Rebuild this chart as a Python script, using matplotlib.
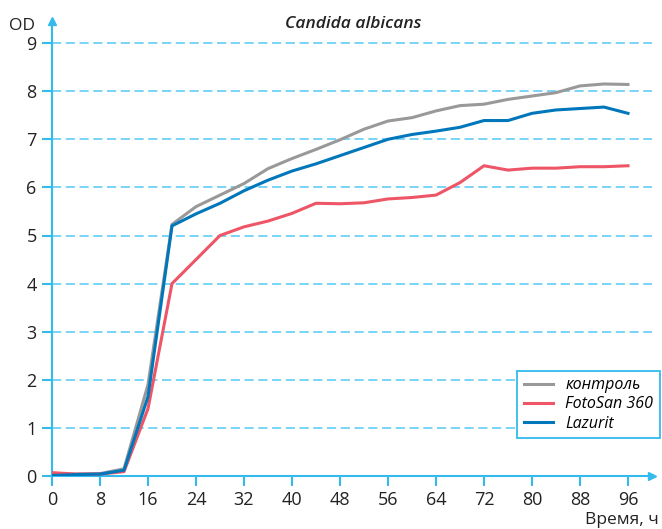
import matplotlib
matplotlib.use('Agg')
import matplotlib.pyplot as plt

AXIS = '#33BBEE'
GRID = '#55C8F5'
TEXT = '#222222'

hours = [0, 4, 8, 12, 16, 20, 24, 28, 32, 36, 40, 44, 48, 52, 56, 60, 64, 68, 72, 76, 80, 84, 88, 92, 96]
control = [0.03, 0.04, 0.05, 0.15, 1.9, 5.23, 5.60, 5.84, 6.08, 6.39, 6.60, 6.79, 6.99, 7.21, 7.38, 7.45,
           7.59, 7.70, 7.73, 7.83, 7.90, 7.97, 8.11, 8.15, 8.14]
fotosan = [0.07, 0.04, 0.04, 0.09, 1.4, 4.00, 4.50, 5.00, 5.18, 5.30, 5.46, 5.67, 5.66, 5.68, 5.76, 5.79,
           5.84, 6.10, 6.45, 6.36, 6.40, 6.40, 6.43, 6.43, 6.45]
lazurit = [0.01, 0.03, 0.04, 0.12, 1.65, 5.20, 5.45, 5.67, 5.93, 6.15, 6.34, 6.49, 6.66, 6.83, 7.00, 7.10,
           7.17, 7.25, 7.39, 7.39, 7.54, 7.61, 7.64, 7.67, 7.54]
x_ticks = list(range(0, 97, 8))
y_ticks = list(range(0, 10))

plt.rcParams['font.family'] = ['Open Sans', 'DejaVu Sans']

fig = plt.figure(figsize=(6.62, 5.29), dpi=100)
ax = fig.add_axes([52 / 662, 1 - 476 / 529, 600 / 662, (476 - 21) / 529])
ax.set_xlim(0, 100)
ax.set_ylim(0, 455 / 48.1)

for y in y_ticks[1:]:
    ax.axhline(y, color=GRID, linestyle=(0, (6, 3)), linewidth=1.1, zorder=1)

ax.plot(hours, control, color='#999999', linewidth=2.2, label='контроль', zorder=3)
ax.plot(hours, fotosan, color='#EE5566', linewidth=2.2, label='FotoSan 360', zorder=3)
ax.plot(hours, lazurit, color='#0077BB', linewidth=2.2, label='Lazurit', zorder=4)

for side in ['top', 'right']:
    ax.spines[side].set_visible(False)
for side in ['left', 'bottom']:
    ax.spines[side].set_color(AXIS)
    ax.spines[side].set_linewidth(1.5)

# arrow heads on axes
ax.plot(1, 0, '>', color=AXIS, markersize=6, transform=ax.transAxes, clip_on=False)
ax.plot(0, 1, '^', color=AXIS, markersize=6, transform=ax.transAxes, clip_on=False)

ax.set_xticks(x_ticks)
ax.set_yticks(y_ticks)
ax.tick_params(axis='both', colors=AXIS, labelcolor=TEXT, labelsize=13, width=1.5, length=7, pad=4)

ax.text(-0.028, 0.99, 'OD', transform=ax.transAxes, ha='right', va='center', fontsize=12.5, color=TEXT)
ax.text(0.95, -0.097, 'Время, ч', transform=ax.transAxes, ha='center', va='center', fontsize=12.5, color=TEXT)
fig.text(0.533, 0.955, 'Candida albicans', ha='center', va='center', fontsize=12.5,
         fontstyle='italic', fontweight='semibold', color=TEXT)

leg = ax.legend(loc='lower right', bbox_to_anchor=(1.013, 0.0835), frameon=True,
                fancybox=False, handlelength=1.8, borderpad=0.4, labelspacing=0.2,
                borderaxespad=0, prop={'style': 'italic', 'size': 11.5})
leg.get_frame().set_edgecolor(AXIS)
leg.get_frame().set_linewidth(1.3)
leg.get_frame().set_alpha(1)

plt.savefig('out.png', dpi=100)
